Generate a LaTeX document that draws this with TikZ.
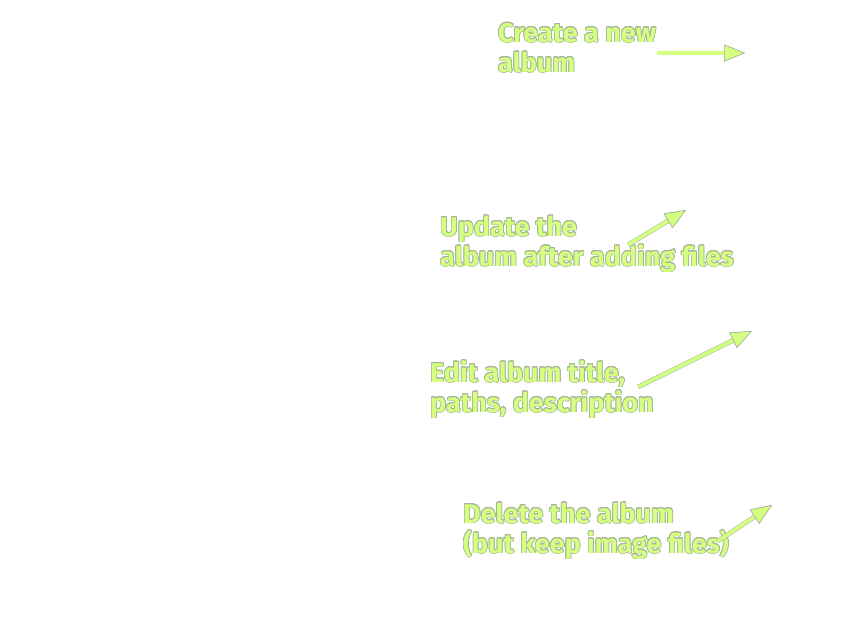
\documentclass[tikz,border=0pt]{standalone}
\usepackage{fontspec}
\setmainfont{Fira Sans}
\usepackage{contour}
\contourlength{0.7pt}
\contournumber{16}
\usetikzlibrary{arrows.meta}
\definecolor{lime}{HTML}{D4FF80}
\definecolor{rim}{HTML}{A8B49A}
\newcommand{\hl}[1]{\contour{rim}{#1}}
\tikzset{
    note/.style={anchor=base west, inner sep=0pt, align=left, text=lime,
        font=\fontsize{27}{30}\selectfont\bfseries},
    pointer/.style={draw=lime, line width=3.5pt,
        -{Triangle[length=21pt,width=17pt,color=rim,fill=lime,line width=0.6pt]},
        preaction={draw=rim, line width=4.6pt, -{Triangle[length=21pt,width=17pt,color=rim,fill=lime,line width=0.6pt]}}}
}

\begin{document}
\begin{tikzpicture}[x=1pt,y=-1pt]
            \useasboundingbox[fill=white] (0,0) rectangle (867,630);
            % base anchor sits on the last line
            \node[note] (create) at (498,72) {\hl{Create a new}\\\hl{album}};
            \node[note] (update) at (440,266) {\hl{Update the}\\\hl{album after adding files}};
            \node[note] (edit) at (430,412) {\hl{Edit album title,}\\\hl{paths, description}};
            \node[note] (delete) at (463,553) {\hl{Delete the album}\\\hl{(but keep image files)}};
            \coordinate (createA) at (657,53);
            \coordinate (createB) at (745,53);
            \coordinate (updateA) at (628,245);
            \coordinate (updateB) at (686,210);
            \coordinate (editA) at (638,387);
            \coordinate (editB) at (752,331);
            \coordinate (deleteA) at (718,541);
            \coordinate (deleteB) at (772,505);
            \draw[pointer] (createA)--(createB);
            \draw[pointer] (updateA)--(updateB);
            \draw[pointer] (editA)--(editB);
            \draw[pointer] (deleteA)--(deleteB);
        \end{tikzpicture}
\end{document}
